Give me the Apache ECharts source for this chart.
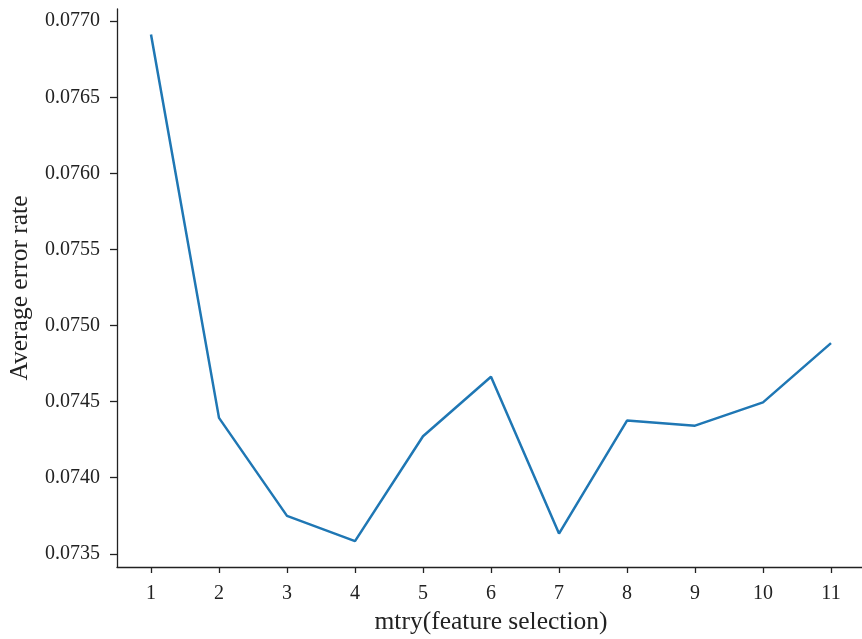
<!DOCTYPE html>
<html>
<head>
<meta charset="utf-8">
<script src="https://cdn.jsdelivr.net/npm/echarts@6/dist/echarts.min.js"></script>
<style>
  html, body { margin: 0; padding: 0; background: #fff; }
  #chart { width: 862px; height: 639px; }
</style>
</head>
<body>
<div id="chart"></div>
<script>
// mtry values tried and the average error rate observed for each
const mtry = [1, 2, 3, 4, 5, 6, 7, 8, 9, 10, 11];
const errorRate = [0.076913, 0.074393, 0.073749, 0.073583, 0.074272, 0.074663,
                   0.073633, 0.074375, 0.074342, 0.074495, 0.074884];
const yTicks = [0.0735, 0.0740, 0.0745, 0.0750, 0.0755, 0.0760, 0.0765, 0.0770];
const xTicks = [1, 2, 3, 4, 5, 6, 7, 8, 9, 10, 11];

const serif = '"Liberation Serif", "DejaVu Serif", serif';
const ink = '#222';

const chart = echarts.init(document.getElementById('chart'), null, { renderer: 'canvas' });
chart.setOption({
  animation: false,
  backgroundColor: '#fff',
  grid: {
    left: 117, right: -3, top: 9, bottom: 72,
    containLabel: false,
    outerBoundsMode: 'none'
  },
  xAxis: {
    type: 'value',
    min: 0.5,
    max: 11.5,
    name: 'mtry(feature selection)',
    nameLocation: 'middle',
    nameGap: 39,
    nameTextStyle: { fontFamily: serif, fontSize: 25.5, color: ink },
    axisLine: { show: true, lineStyle: { color: ink, width: 1.3 } },
    axisTick: { show: true, length: 6, customValues: xTicks, lineStyle: { color: ink, width: 1.3 } },
    axisLabel: { customValues: xTicks, margin: 17, fontFamily: serif, fontSize: 20, color: ink },
    splitLine: { show: false }
  },
  yAxis: {
    type: 'value',
    min: 0.073413,
    max: 0.07708,
    name: 'Average error rate',
    nameLocation: 'middle',
    nameGap: 84,
    nameTextStyle: { fontFamily: serif, fontSize: 25.5, color: ink },
    axisLine: { show: true, lineStyle: { color: ink, width: 1.3 } },
    axisTick: { show: true, length: 7, customValues: yTicks, lineStyle: { color: ink, width: 1.3 } },
    axisLabel: {
      customValues: yTicks,
      margin: 17,
      fontFamily: serif, fontSize: 20, color: ink,
      formatter: v => v.toFixed(4)
    },
    splitLine: { show: false }
  },
  series: [{
    type: 'line',
    data: mtry.map((m, i) => [m, errorRate[i]]),
    showSymbol: false,
    lineStyle: { color: '#1f77b4', width: 2.5 },
    itemStyle: { color: '#1f77b4' }
  }]
});
</script>
</body>
</html>
